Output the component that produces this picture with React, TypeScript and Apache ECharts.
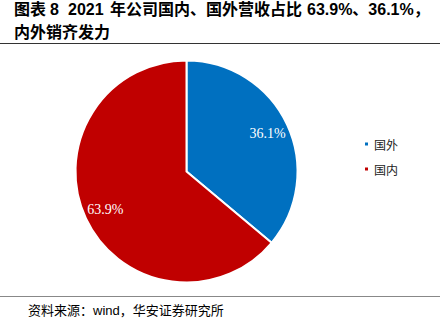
import React, { useEffect, useRef } from "react";
import * as echarts from "echarts";

const titleParts = ["图表", "8", "2021", "年公司国内、国外营收占比", "63.9%、36.1%，"];
const titleLine2 = "内外销齐发力";
const sourceText = "资料来源：wind，华安证券研究所";
const categories = ["国外", "国内"];
const values = [36.1, 63.9];
const colors = ["#0070C0", "#C00000"];

const titlePartX = [14, 50, 68, 110, 307];

const titleStyle = {
  fontFamily: "'Liberation Sans', 'Noto Sans CJK SC', sans-serif",
  fontWeight: "bold",
  fontSize: 16,
  color: "#000000",
};

export default function App() {
  const ref = useRef<HTMLDivElement>(null);
  useEffect(() => {
    document.body.style.margin = "0";
    const chart = echarts.init(ref.current!, null, { renderer: "svg" });
    const data = categories.map((name, i) => ({
      name,
      value: values[i],
      itemStyle: { color: colors[i] },
    }));
    chart.setOption({
      animation: false,
      backgroundColor: "#ffffff",
      title: [
        ...titleParts.map((t, i) => ({
          text: t,
          left: titlePartX[i],
          top: 1,
          padding: 0,
          textStyle: titleStyle,
        })),
        { text: titleLine2, left: 14, top: 24, padding: 0, textStyle: titleStyle },
        {
          text: sourceText,
          left: 28,
          top: 304,
          padding: 0,
          textStyle: {
            fontFamily: "'Liberation Sans', 'Noto Sans CJK SC', sans-serif",
            fontWeight: "normal",
            fontSize: 13,
            color: "#000000",
          },
        },
      ],
      graphic: [
        { type: "line", shape: { x1: 0, y1: 43.5, x2: 440, y2: 43.5 }, style: { stroke: "#333333", lineWidth: 1 } },
        { type: "line", shape: { x1: 0, y1: 296.5, x2: 440, y2: 296.5 }, style: { stroke: "#888888", lineWidth: 1 } },
      ],
      legend: {
        orient: "vertical",
        left: 363,
        top: 138,
        padding: 0,
        itemWidth: 5,
        itemHeight: 5,
        itemGap: 13,
        icon: "rect",
        data: categories,
        textStyle: {
          fontFamily: "'Noto Sans CJK SC', sans-serif",
          fontSize: 12,
          color: "#222222",
        },
      },
      series: [
        {
          type: "pie",
          center: [186.5, 171.5],
          radius: [0, 111],
          startAngle: 90,
          clockwise: true,
          silent: true,
          itemStyle: { borderColor: "#ffffff", borderWidth: 2 },
          label: { show: false },
          labelLine: { show: false },
          data,
        },
        {
          type: "pie",
          center: [186.5, 171.5],
          radius: [62, 111],
          startAngle: 90,
          clockwise: true,
          silent: true,
          legendHoverLink: false,
          itemStyle: { color: "rgba(0,0,0,0)", borderWidth: 0 },
          label: {
            show: true,
            position: "inside",
            formatter: (p: any) => p.value.toFixed(1) + "%",
            color: "#ffffff",
            fontFamily: "Liberation Serif",
            fontSize: 14,
          },
          labelLine: { show: false },
          data: categories.map((name, i) => ({ name, value: values[i] })),
        },
      ],
    });
    return () => chart.dispose();
  }, []);
  return <div ref={ref} style={{ width: 448, height: 334 }} />;
}
